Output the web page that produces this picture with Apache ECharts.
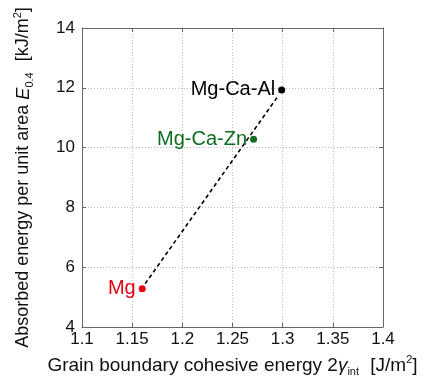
<!DOCTYPE html>
<html><head><meta charset="utf-8">
<script src="https://cdn.jsdelivr.net/npm/echarts@6/dist/echarts.min.js"></script>
<style>html,body{margin:0;padding:0;background:#fff}#c{width:425px;height:382px}</style>
</head><body><div id="c"></div>
<script>
const names = ["Mg", "Mg-Ca-Zn", "Mg-Ca-Al"];
const xVals = [1.160, 1.271, 1.299];
const yVals = [5.28, 10.28, 11.93];
const colors = ["#e60012", "#0f6e1e", "#000000"];
const fitLine = [[1.163, 5.45], [1.296, 11.75]];
const xTicks = [1.1, 1.15, 1.2, 1.25, 1.3, 1.35, 1.4];
const yTicks = [4, 6, 8, 10, 12, 14];

const chart = echarts.init(document.getElementById('c'));
const font = 'Liberation Sans, Arial, sans-serif';
const axisCommon = {
  axisLine: {show: true, lineStyle: {color: '#666', width: 1}},
  axisTick: {show: true, inside: true, length: 4, lineStyle: {color: '#666'}},
  splitLine: {show: false},
};
const pts = names.map((n, i) => ({
  value: [xVals[i], yVals[i]],
  itemStyle: {color: colors[i], opacity: 1},
  label: {show: true, position: 'left', distance: 3, formatter: n, color: colors[i], fontSize: 20, fontFamily: font, opacity: 1}
}));
function rich(fs) {
  return {
    n: {fontSize: fs, fontFamily: font, color: '#111'},
    i: {fontSize: fs, fontFamily: font, fontStyle: 'italic', color: '#111'},
    s: {fontSize: 11, fontFamily: font, color: '#111', verticalAlign: 'bottom', padding: [12, 6, 0, 0]},
    sup: {fontSize: 11, fontFamily: font, color: '#111', verticalAlign: 'top', padding: [0, 0, 9, 0]}
  };
}
chart.setOption({
  animation: false,
  grid: {left: 82, right: 42, top: 28, bottom: 54, containLabel: false},
  xAxis: [
    Object.assign({}, axisCommon, {
      type: 'value', min: 1.1, max: 1.4, interval: 0.05,
      axisLabel: {color: '#111', fontSize: 17, fontFamily: font, margin: 4, formatter: v => String(+v.toFixed(2))},
      splitLine: {show: true, lineStyle: {color: '#bbb', type: [1, 2], width: 1}},
      name: '{n|Grain boundary cohesive energy 2}{i|γ}{s|int}{n| [J/m}{sup|2}{n|]}',
      nameLocation: 'middle', nameGap: 27,
      nameTextStyle: {rich: rich(19)}
    }),
    Object.assign({}, axisCommon, {
      type: 'value', min: 1.1, max: 1.4, interval: 0.05, position: 'top',
      axisLabel: {show: false}
    })
  ],
  yAxis: [
    Object.assign({}, axisCommon, {
      type: 'value', min: 4, max: 14, interval: 2,
      axisLabel: {color: '#111', fontSize: 17, fontFamily: font, margin: 7},
      splitLine: {show: true, lineStyle: {color: '#bbb', type: [1, 2], width: 1}},
      name: '{n|Absorbed energy per unit area }{i|E}{s|0.4}{n| [kJ/m}{sup|2}{n|]}',
      nameLocation: 'middle', nameGap: 47,
      nameTextStyle: {rich: rich(18)}
    }),
    Object.assign({}, axisCommon, {
      type: 'value', min: 4, max: 14, interval: 2, position: 'right',
      axisLabel: {show: false}
    })
  ],
  series: [
    {
      type: 'line', data: fitLine, symbol: 'none',
      lineStyle: {color: '#000', type: [4, 3], width: 1.6}, z: 1
    },
    {
      type: 'scatter', data: pts, symbolSize: 7, z: 3
    }
  ]
});
</script></body></html>
